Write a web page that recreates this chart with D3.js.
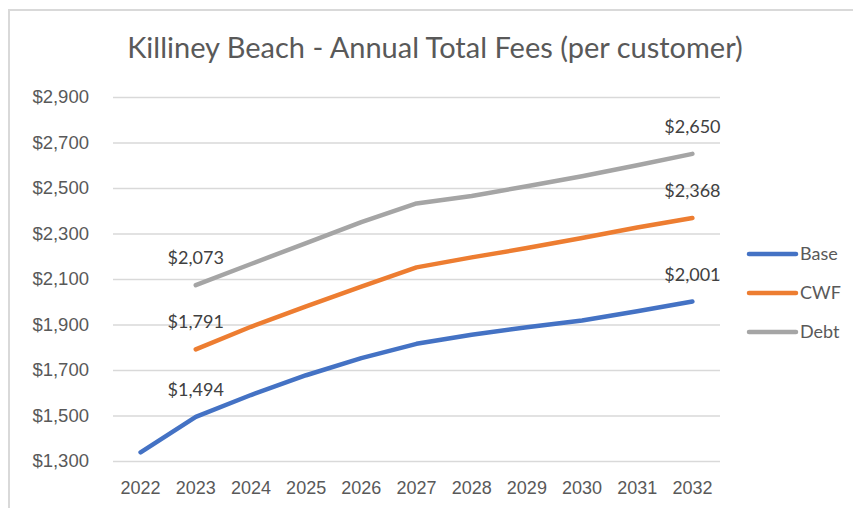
<!DOCTYPE html>
<html>
<head>
<meta charset="utf-8">
<script src="https://cdn.jsdelivr.net/npm/d3@7"></script>
<style>
  body { margin: 0; background: #fff; }
  svg { display: block; font-family: Lato, "Open Sans", sans-serif; }
</style>
</head>
<body>
<div id="chart"></div>
<script>
// data
const years = ["2022", "2023", "2024", "2025", "2026", "2027", "2028", "2029", "2030", "2031", "2032"];
const baseFees = [1338, 1494, 1590, 1677, 1752, 1815, 1855, 1888, 1918, 1958, 2001];
const cwfFees = [null, 1791, 1890, 1980, 2066, 2151, 2195, 2236, 2280, 2326, 2368];
const debtFees = [null, 2073, 2166, 2258, 2350, 2432, 2465, 2508, 2552, 2600, 2650];
const yTicks = [1300, 1500, 1700, 1900, 2100, 2300, 2500, 2700, 2900];
const seriesNames = ["Base", "CWF", "Debt"];
const labelYears = ["2023", "2032"];

const colors = { Base: "#4472C4", CWF: "#ED7D31", Debt: "#A5A5A5" };
const series = [
  { name: "Base", values: baseFees },
  { name: "CWF", values: cwfFees },
  { name: "Debt", values: debtFees }
];

var width = 853, height = 508;
var margin = { top: 97, right: 133, bottom: 47, left: 113 };

var svg = d3.select("#chart")
  .append("svg")
  .attr("width", width)
  .attr("height", height);

// outer chart border (only left and top show in the window)
svg.append("rect")
  .attr("x", 9).attr("y", 10)
  .attr("width", 900).attr("height", 600)
  .attr("fill", "none")
  .attr("stroke", "#d9d9d9")
  .attr("stroke-width", 2);

// title
svg.append("text")
  .attr("x", 435).attr("y", 58)
  .attr("text-anchor", "middle")
  .style("font-size", "29px")
  .style("fill", "#595959")
  .text("Killiney Beach - Annual Total Fees (per customer)");

var x = d3.scaleBand()
  .domain(years)
  .range([margin.left, width - margin.right]);

var y = d3.scaleLinear()
  .domain([1300, 2900])
  .range([height - margin.bottom, margin.top]);

var fmt = d3.format("$,.0f");

// gridlines + y labels
var yAxis = svg.append("g")
  .attr("transform", "translate(" + margin.left + ",0)")
  .call(d3.axisLeft(y)
    .tickValues(yTicks)
    .tickFormat(fmt)
    .tickSize(-(width - margin.left - margin.right))
    .tickPadding(24));
yAxis.select(".domain").remove();
yAxis.selectAll(".tick line").attr("stroke", "#d9d9d9").attr("stroke-width", 1.5);
yAxis.selectAll(".tick text")
  .style("font-size", "18.5px")
  .style("fill", "#595959");

// x labels
var xAxis = svg.append("g")
  .attr("transform", "translate(0," + (height - margin.bottom) + ")")
  .call(d3.axisBottom(x).tickSize(0).tickPadding(20));
xAxis.select(".domain").remove();
xAxis.selectAll(".tick text")
  .style("font-size", "18px")
  .style("fill", "#595959");

// lines
var line = d3.line()
  .defined(function (d) { return d != null; })
  .x(function (d, i) { return x(years[i]) + x.bandwidth() / 2; })
  .y(function (d) { return y(d); });

svg.append("g")
  .selectAll("path")
  .data(series)
  .enter()
  .append("path")
  .attr("d", function (d) { return line(d.values); })
  .attr("fill", "none")
  .attr("stroke", function (d) { return colors[d.name]; })
  .attr("stroke-width", 4.5)
  .attr("stroke-linecap", "round")
  .attr("stroke-linejoin", "round");

// data labels at first and last labelled year
series.forEach(function (s) {
  labelYears.forEach(function (yr) {
    var i = years.indexOf(yr);
    var v = s.values[i];
    if (v == null) return;
    svg.append("text")
      .attr("x", x(yr) + x.bandwidth() / 2)
      .attr("y", y(v) - 21)
      .attr("text-anchor", "middle")
      .style("font-size", "18px")
      .style("fill", "#404040")
      .text(fmt(v));
  });
});

// legend
var legend = svg.append("g")
  .selectAll("g")
  .data(seriesNames)
  .enter()
  .append("g")
  .attr("transform", function (d, i) { return "translate(749," + (254 + i * 39) + ")"; });

legend.append("line")
  .attr("x1", 0).attr("x2", 47)
  .attr("stroke", function (d) { return colors[d]; })
  .attr("stroke-width", 4.5)
  .attr("stroke-linecap", "round");

legend.append("text")
  .attr("x", 51)
  .attr("dy", "0.35em")
  .style("font-size", "18px")
  .style("fill", "#595959")
  .text(function (d) { return d; });
</script>
</body>
</html>
